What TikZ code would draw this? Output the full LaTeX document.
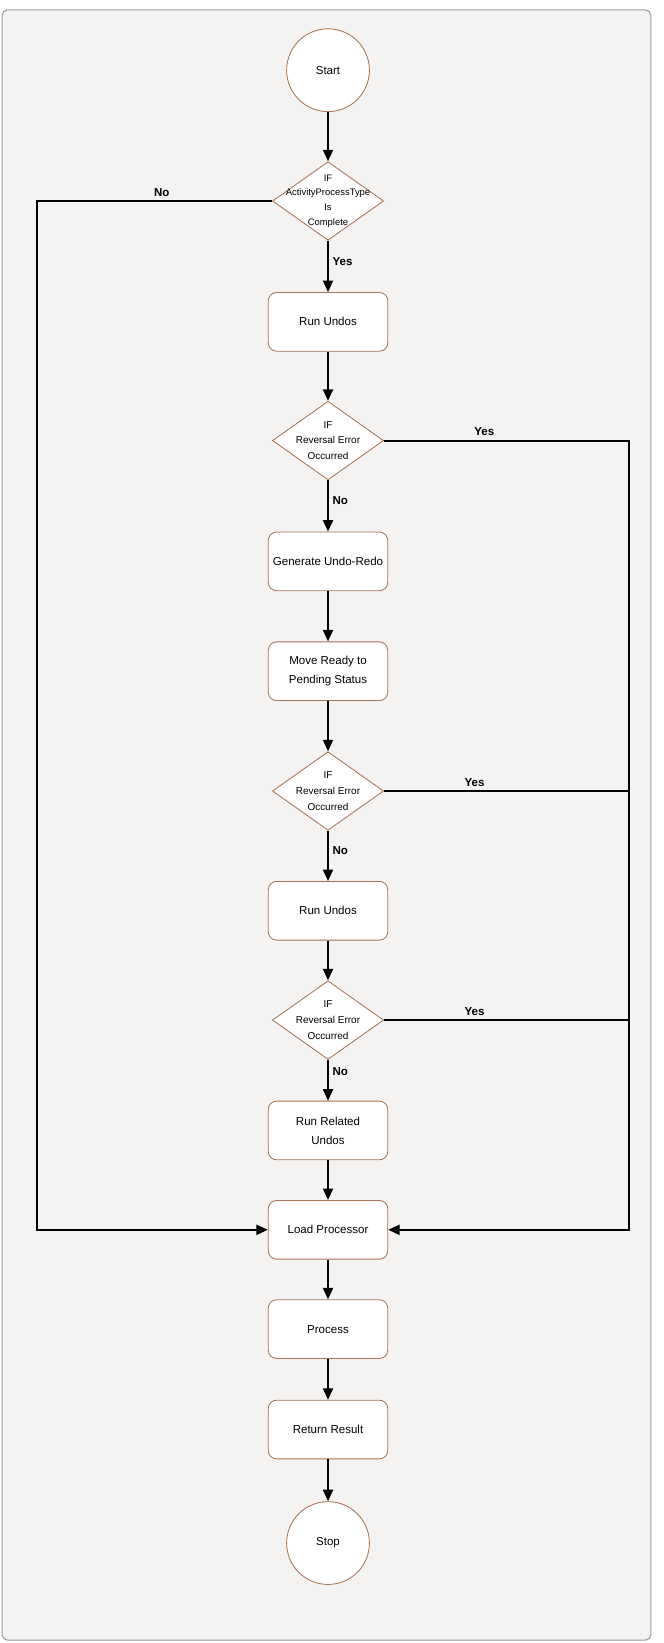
\documentclass[tikz,border=0pt]{standalone}
\usepackage{fontspec}
\setmainfont{Liberation Sans}
\usetikzlibrary{shapes.geometric,arrows.meta,positioning,calc}

\definecolor{paper}{RGB}{245,243,241}
\definecolor{frameline}{RGB}{155,155,155}
\definecolor{edgebrown}{RGB}{165,115,85}

\begin{document}
\begin{tikzpicture}[
    x=1pt, y=-1pt,
    box/.style={rectangle, draw=edgebrown, line width=0.8pt, rounded corners=8pt, fill=white, minimum width=114pt, minimum height=56pt, align=center, font=\fontsize{11}{18}\selectfont},
    term/.style={circle, draw=edgebrown, line width=0.8pt, fill=white, minimum size=79pt, inner sep=0pt, font=\fontsize{11}{13}\selectfont},
    decision/.style={diamond, draw=edgebrown, line width=0.8pt, fill=white, minimum width=106pt, minimum height=75pt, inner sep=0pt},
    dtext/.style={align=center, inner sep=0pt, font=\fontsize{9.5}{15}\selectfont},
    arrow/.style={-{Triangle[length=11pt,width=9.5pt]}, line width=2pt},
    line/.style={line width=2pt},
    answer/.style={font=\fontsize{11}{13}\bfseries\selectfont}
]

% Background sheet
\useasboundingbox (0,0) rectangle (633.6,1567.8);
\draw[draw=frameline, fill=paper, line width=1pt, rounded corners=5pt] (2,9.5) rectangle (621,1565);

% Main column
\node[term] (start) at (313,67) {Start};
\node[decision, below=47pt of start, label={[dtext, font=\fontsize{9}{14}\selectfont]center:{IF\\ActivityProcessType\\Is\\Complete}}] (d1) {};
\node[box, below=49pt of d1] (undo1) {Run Undos};
\node[decision, below=47pt of undo1, label={[dtext]center:{IF\\Reversal Error\\Occurred}}] (d2) {};
\node[box, below=49pt of d2] (genredo) {Generate Undo-Redo};
\node[box, below=48pt of genredo] (moveready) {Move Ready to\\Pending Status};
\node[decision, below=48pt of moveready, label={[dtext]center:{IF\\Reversal Error\\Occurred}}] (d3) {};
\node[box, below=48pt of d3] (undo2) {Run Undos};
\node[decision, below=38pt of undo2, label={[dtext]center:{IF\\Reversal Error\\Occurred}}] (d4) {};
\node[box, below=39pt of d4] (related) {Run Related\\Undos};
\node[box, below=38pt of related] (loadproc) {Load Processor};
\node[box, below=38pt of loadproc] (process) {Process};
\node[box, below=39pt of process] (result) {Return Result};
\node[term, below=40pt of result] (stop) {Stop};

% Straight flow
\draw[arrow] (start) -- (d1);
\draw[arrow] (d1) -- node[answer, right, pos=0.4] {Yes} (undo1);
\draw[arrow] (undo1) -- (d2);
\draw[arrow] (d2) -- node[answer, right, pos=0.4] {No} (genredo);
\draw[arrow] (genredo) -- (moveready);
\draw[arrow] (moveready) -- (d3);
\draw[arrow] (d3) -- node[answer, right, pos=0.4] {No} (undo2);
\draw[arrow] (undo2) -- (d4);
\draw[arrow] (d4) -- node[answer, right, pos=0.3] {No} (related);
\draw[arrow] (related) -- (loadproc);
\draw[arrow] (loadproc) -- (process);
\draw[arrow] (process) -- (result);
\draw[arrow] (result) -- (stop);

% Left bypass
\draw[arrow] (d1.west) -- node[answer, above, pos=0.47] {No} ++(-224,0) |- (loadproc.west);

% Right error rail
\coordinate (rail) at (600,0);
\draw[arrow] (d2.east) -- node[answer, above, pos=0.41] {Yes} (d2.east -| rail) |- (loadproc.east);
\draw[line] (d3.east) -- node[answer, above, pos=0.37] {Yes} (d3.east -| rail);
\draw[line] (d4.east) -- node[answer, above, pos=0.37] {Yes} (d4.east -| rail);

\end{tikzpicture}
\end{document}
